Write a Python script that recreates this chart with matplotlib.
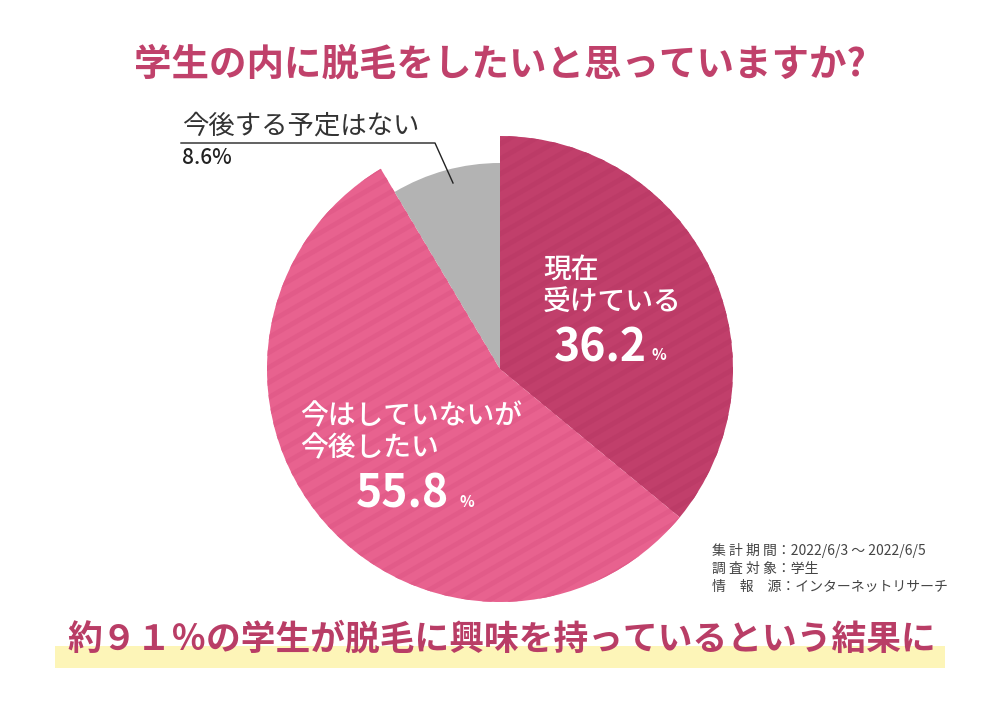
import matplotlib
matplotlib.use("Agg")
import matplotlib.pyplot as plt
from matplotlib.patches import Rectangle
import numpy as np

plt.rcParams['font.family'] = ['Noto Sans CJK JP', 'DejaVu Sans']

# ---- data ----
title = "学生の内に脱毛をしたいと思っていますか?"
categories = ["現在\n受けている", "今はしていないが\n今後したい", "今後する予定はない"]
values = [36.2, 55.8, 8.6]
colors = ["#c13f6b", "#e8628f", "#b3b3b3"]
stripe_colors = ["#bc3b67", "#e25b89", None]
notes = ["集 計 期 間：2022/6/3 ～ 2022/6/5", "調 査 対 象：学生", "情　報　源：インターネットリサーチ"]
conclusion = "約９１％の学生が脱毛に興味を持っているという結果に"

W, H = 1000, 707
fig = plt.figure(figsize=(10, 7.07), dpi=100)
ax = fig.add_axes([0, 0, 1, 1])
ax.set_xlim(0, W)
ax.set_ylim(0, H)
ax.axis('off')

def Y(y):
    return H - y

cx, cy, R = 500, Y(369), 233
wedges, _ = ax.pie(values, colors=colors, startangle=90, counterclock=False,
                   center=(cx, cy), radius=R, normalize=True,
                   wedgeprops=dict(linewidth=0))
wedges[2].set_radius(206)
ax.set_xlim(0, W)
ax.set_ylim(0, H)
ax.set_aspect('equal')

# subtle diagonal stripes on the pink wedges
slope = np.tan(np.radians(30))
xs = np.array([cx - R - 50, cx + R + 50])
for w, sc in zip(wedges, stripe_colors):
    if sc is None:
        continue
    for b in np.arange(-600, 600, 15):
        ln, = ax.plot(xs, cy + b + slope * (xs - cx), color=sc, lw=3.5,
                      solid_capstyle='butt', zorder=1.5)
        ln.set_clip_path(w)

# title
ax.text(500, Y(64), title, ha='center', va='center', fontsize=27,
        fontweight='bold', color='#c0416b')

# labels inside pie
ax.text(543, Y(286), categories[0], ha='left', va='center', fontsize=20,
        color='white', fontweight='medium', linespacing=1.15)
ax.text(600, Y(348), f"{values[0]}", ha='center', va='center', fontsize=32,
        color='white', fontweight='bold')
ax.text(659, Y(355), "%", ha='center', va='center', fontsize=11,
        color='white', fontweight='bold')

ax.text(300, Y(432), categories[1], ha='left', va='center', fontsize=20,
        color='white', fontweight='medium', linespacing=1.15)
ax.text(402, Y(495), f"{values[1]}", ha='center', va='center', fontsize=32,
        color='white', fontweight='bold')
ax.text(467, Y(502), "%", ha='center', va='center', fontsize=11,
        color='white', fontweight='bold')

# gray slice callout
ax.text(182, Y(126), categories[2], ha='left', va='center', fontsize=19,
        color='#333333')
ax.text(182, Y(158), f"{values[2]}%", ha='left', va='center', fontsize=15,
        color='#222222', fontweight='medium')
ax.plot([181, 435, 453], [Y(143), Y(143), Y(183)], color='#222222', lw=1.0)

# notes
for i, n in enumerate(notes):
    ax.text(712, Y(550 + i * 18.5), n, ha='left', va='center', fontsize=10,
            color='#444444')

# conclusion with highlight band
ax.add_patch(Rectangle((55, Y(668)), 890, 22, facecolor='#fdf5b8',
                       edgecolor='none', zorder=1))
ax.text(502, Y(639), conclusion, ha='center', va='center', fontsize=25,
        fontweight='bold', color='#b93d66', zorder=2)

fig.savefig('out.png', dpi=100, facecolor='white')
